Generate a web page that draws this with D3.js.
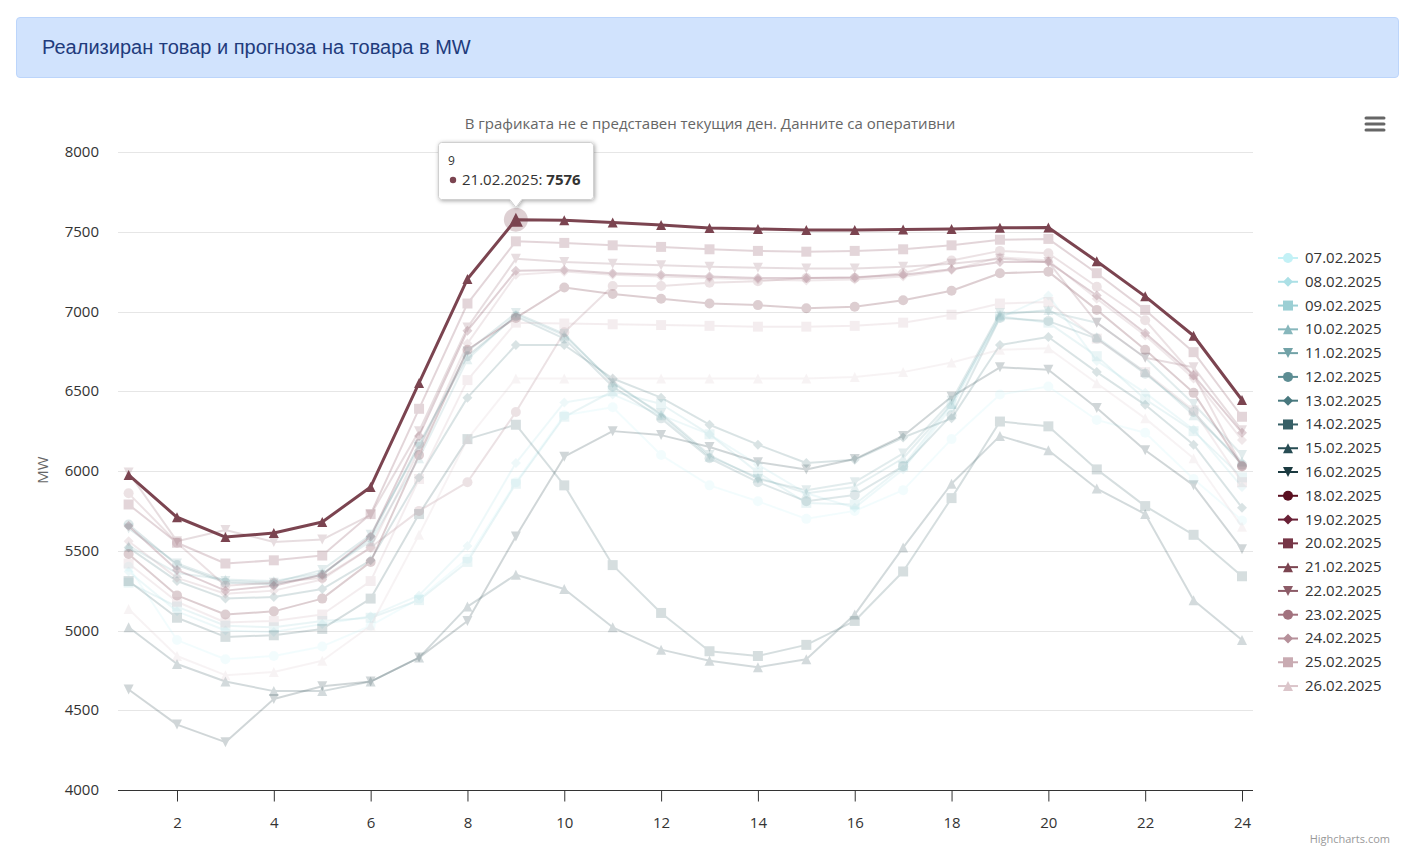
<!DOCTYPE html>
<html>
<head>
<meta charset="utf-8">
<script src="https://cdn.jsdelivr.net/npm/d3@7"></script>
<style>
  body { margin: 0; background: #fff; font-family: "Open Sans", "Noto Sans", sans-serif; }
  .hdr { position: absolute; left: 16px; top: 17px; width: 1383px; height: 61px;
         background: #d1e3fd; border: 1px solid #bcd5fb; border-radius: 4px; box-sizing: border-box; }
  .hdr span { position: absolute; left: 25px; top: 18px; font-family: "Liberation Sans", Arial, sans-serif;
              font-size: 20px; color: #1f3b7c; }
  svg { position: absolute; left: 0; top: 0; }
</style>
</head>
<body>
<div class="hdr"><span>Реализиран товар и прогноза на товара в MW</span></div>
<script>
function ready(fn) {
  if (document.readyState != 'loading') { fn(); }
  else { document.addEventListener('DOMContentLoaded', fn); }
}
ready(init);

var hours = d3.range(1, 25);
var yTicks = [4000, 4500, 5000, 5500, 6000, 6500, 7000, 7500, 8000];
var xTicks = [2, 4, 6, 8, 10, 12, 14, 16, 18, 20, 22, 24];

var dates = ["07.02.2025","08.02.2025","09.02.2025","10.02.2025","11.02.2025","12.02.2025","13.02.2025",
             "14.02.2025","15.02.2025","16.02.2025","18.02.2025","19.02.2025","20.02.2025","21.02.2025",
             "22.02.2025","23.02.2025","24.02.2025","25.02.2025","26.02.2025"];
var colors = ["#c3f1f6","#ace0e6","#9bcfd4","#87b7bc","#72a2a7","#5d8d93","#48787e","#365f66","#274c53","#1b3a40",
              "#5a0f20","#692036","#763546","#7b4450","#8c5b67","#a2727e","#b6909a","#c9abb2","#dbc5ca"];
var symbols = ["circle","diamond","square","triangle","triangle-down"];

var d0702 = [5400,4940,4820,4840,4900,5030,5200,5450,5930,6350,6400,6100,5910,5810,5700,5750,5880,6200,6480,6530,6320,6240,5950,5690];
var d0802 = [5370,5120,5000,4990,5040,5090,5220,5530,6050,6430,6480,6350,6230,6040,5860,5770,6010,6400,6960,7100,6690,6490,6260,5900];
var d0902 = [5300,5150,5030,5020,5060,5080,5190,5430,5920,6340,6500,6420,6230,5990,5800,5790,6030,6420,6970,6930,6720,6450,6250,5960];
var d1002 = [5530,5360,5320,5310,5360,5560,6080,6700,6980,6850,6560,6350,6090,5960,5860,5900,6080,6420,6980,7010,6840,6620,6350,6060];
var d1102 = [5640,5420,5310,5300,5380,5600,6150,6750,6990,6860,6550,6360,6100,5950,5880,5930,6110,6440,6990,7000,6930,6710,6420,6100];
var d1202 = [5665,5410,5300,5290,5350,5580,6170,6720,6970,6830,6530,6330,6080,5930,5810,5850,6030,6350,6960,6940,6830,6610,6370,6040];
var d1302 = [5520,5310,5200,5210,5260,5440,5960,6460,6790,6790,6580,6460,6290,6165,6050,6070,6210,6330,6790,6840,6620,6415,6165,5770];
var d1402 = [5310,5080,4960,4970,5010,5200,5730,6200,6290,5910,5410,5110,4870,4840,4910,5060,5370,5830,6310,6280,6010,5780,5600,5340];
var d1502 = [5020,4790,4680,4620,4620,4680,4830,5150,5350,5260,5020,4880,4810,4770,4820,5100,5520,5920,6220,6130,5890,5730,5190,4940];
var d1602 = [4630,4410,4300,4570,4650,4680,4830,5060,5590,6090,6250,6225,6150,6055,6010,6075,6220,6465,6650,6635,6395,6130,5910,5510];
var d1802 = [5480,5220,5100,5120,5200,5430,6100,6760,6960,7150,7110,7080,7050,7040,7020,7030,7070,7130,7240,7250,7010,6760,6490,6030];
var d1902 = [5655,5380,5250,5280,5350,5590,6220,6880,7255,7260,7240,7230,7220,7210,7210,7215,7230,7265,7310,7310,7100,6865,6600,6240];
var d2002 = [5790,5550,5420,5440,5470,5730,6390,7050,7440,7430,7415,7405,7390,7380,7375,7380,7390,7415,7450,7455,7240,7010,6745,6340];
var d2102 = [5975,5710,5586,5611,5680,5900,6552,7204,7576,7572,7558,7543,7524,7517,7511,7511,7514,7517,7525,7527,7315,7095,6848,6445];
var d2202 = [5990,5560,5630,5555,5570,5725,6250,6900,7330,7310,7300,7290,7280,7275,7270,7270,7280,7300,7330,7310,6930,6710,6650,6255];
var d2302 = [5860,5550,5280,5300,5330,5520,5750,5930,6370,6870,7160,7160,7180,7190,7210,7210,7240,7320,7380,7365,7155,6945,6600,6030];
var d2402 = [5560,5330,5230,5250,5320,5520,6130,6800,7230,7250,7230,7220,7210,7200,7195,7200,7220,7260,7340,7320,7080,6850,6580,6195];
var d2502 = [5420,5180,5050,5060,5100,5310,5950,6570,6930,6925,6920,6915,6910,6905,6905,6910,6930,6980,7050,7060,6830,6620,6380,5930];
var d2602 = [5135,4840,4720,4740,4810,5030,5600,6200,6580,6580,6580,6580,6580,6580,6580,6590,6620,6680,6760,6770,6550,6330,6080,5650];

var values = [d0702,d0802,d0902,d1002,d1102,d1202,d1302,d1402,d1502,d1602,
              d1802,d1902,d2002,d2102,d2202,d2302,d2402,d2502,d2602];
var hovered = 13;   // 21.02.2025
var hoverHour = 9;

function symbolPath(type, r) {
  if (type == "circle") return "M" + (-r) + ",0a" + r + "," + r + " 0 1,0 " + (2*r) + ",0a" + r + "," + r + " 0 1,0 " + (-2*r) + ",0Z";
  if (type == "square") return "M" + (-r) + "," + (-r) + "h" + 2*r + "v" + 2*r + "h" + (-2*r) + "Z";
  if (type == "diamond") return "M0," + (-r) + "L" + r + ",0L0," + r + "L" + (-r) + ",0Z";
  if (type == "triangle") return "M0," + (-r) + "L" + r + "," + r + "L" + (-r) + "," + r + "Z";
  return "M" + (-r) + "," + (-r) + "L" + r + "," + (-r) + "L0," + r + "Z";
}

function init() {
  var W = 1401, H = 856;
  var svg = d3.select("body").append("svg").attr("width", W).attr("height", H);

  var x = d3.scaleLinear().domain([1, 24]).range([128.6, 1242]);
  var y = d3.scaleLinear().domain([4000, 8000]).range([790, 152]);

  var series = dates.map(function(d, i) {
    return { name: d, color: colors[i], symbol: symbols[i % 5], data: values[i] };
  });

  svg.append("text").attr("x", 710).attr("y", 129).attr("text-anchor", "middle")
     .style("font-size", "15px").attr("fill", "#666")
     .text("В графиката не е представен текущия ден. Данните са оперативни");

  // grid
  svg.append("g").selectAll("line").data(yTicks.slice(1)).enter().append("line")
     .attr("x1", 118).attr("x2", 1253)
     .attr("y1", d => Math.round(y(d)) + 0.5).attr("y2", d => Math.round(y(d)) + 0.5)
     .attr("stroke", "#e6e6e6");

  svg.append("g").selectAll("text").data(yTicks).enter().append("text")
     .attr("x", 99).attr("y", d => y(d) + 5).attr("text-anchor", "end")
     .style("font-size", "15px").attr("fill", "#333").text(d => d);

  svg.append("text").attr("transform", "translate(48,470) rotate(-90)")
     .attr("text-anchor", "middle").style("font-size", "15px").attr("fill", "#666").text("MW");

  // x axis
  var xAxis = d3.axisBottom(x).tickValues(xTicks).tickSize(11).tickPadding(16);
  var gx = svg.append("g").attr("transform", "translate(0,790.5)").call(xAxis);
  gx.select(".domain").attr("d", "M118,0H1253").attr("stroke", "#333");
  gx.selectAll(".tick line").attr("stroke", "#333");
  gx.selectAll(".tick text").style("font-size", "15px").style("font-family", "'Open Sans'").attr("fill", "#333");

  var line = d3.line().x((d, i) => x(hours[i])).y(d => y(d));

  var order = series.filter((s, i) => i != hovered).concat([series[hovered]]);
  var sg = svg.append("g").selectAll("g").data(order).enter().append("g")
     .attr("opacity", d => d.name == dates[hovered] ? 1 : 0.2);

  sg.append("path").attr("d", d => line(d.data)).attr("fill", "none")
    .attr("stroke", d => d.color).attr("stroke-width", d => d.name == dates[hovered] ? 3 : 2)
    .attr("stroke-linejoin", "round").attr("stroke-linecap", "round");

  sg.each(function(s) {
    d3.select(this).selectAll("path.m").data(s.data).enter().append("path")
      .attr("class", "m")
      .attr("transform", (d, i) => "translate(" + x(hours[i]) + "," + y(d) + ")")
      .attr("d", symbolPath(s.symbol, 5))
      .attr("fill", s.color);
  });

  // hovered point
  var hs = series[hovered];
  var hx = x(hoverHour), hy = y(hs.data[hoverHour - 1]);
  svg.append("circle").attr("cx", hx).attr("cy", hy).attr("r", 12)
     .attr("fill", hs.color).attr("opacity", 0.25);
  svg.append("path").attr("transform", "translate(" + hx + "," + hy + ")")
     .attr("d", symbolPath(hs.symbol, 7)).attr("fill", hs.color);

  // tooltip
  var defs = svg.append("defs");
  var f = defs.append("filter").attr("id", "sh").attr("x", "-20%").attr("y", "-20%").attr("width", "140%").attr("height", "160%");
  f.append("feDropShadow").attr("dx", 1).attr("dy", 1).attr("stdDeviation", 2).attr("flood-opacity", 0.35);
  var bx = 438.5, by = 142.5, bw = 155, bh = 57, px = hx;
  var tp = "M" + (bx + 3) + "," + by + "H" + (bx + bw - 3) + "Q" + (bx + bw) + "," + by + " " + (bx + bw) + "," + (by + 3)
         + "V" + (by + bh - 3) + "Q" + (bx + bw) + "," + (by + bh) + " " + (bx + bw - 3) + "," + (by + bh)
         + "H" + (px + 6) + "L" + px + "," + (by + bh + 8) + "L" + (px - 6) + "," + (by + bh)
         + "H" + (bx + 3) + "Q" + bx + "," + (by + bh) + " " + bx + "," + (by + bh - 3)
         + "V" + (by + 3) + "Q" + bx + "," + by + " " + (bx + 3) + "," + by + "Z";
  svg.append("path").attr("d", tp).attr("fill", "#fff").attr("stroke", "#d0d0d0")
     .attr("filter", "url(#sh)");
  svg.append("text").attr("x", 448).attr("y", 165).style("font-size", "12px").attr("fill", "#333").text(hoverHour);
  svg.append("circle").attr("cx", 453).attr("cy", 180).attr("r", 3.2).attr("fill", hs.color);
  var tt = svg.append("text").attr("x", 462).attr("y", 185).style("font-size", "15px").attr("fill", "#333");
  tt.append("tspan").text(hs.name + ": ");
  tt.append("tspan").style("font-weight", "bold").text(hs.data[hoverHour - 1]);

  // legend
  var lg = svg.append("g").selectAll("g").data(series).enter().append("g")
     .attr("transform", (d, i) => "translate(1278," + (258 + i * 23.78) + ")");
  lg.append("line").attr("x1", 0).attr("x2", 20).attr("stroke", d => d.color).attr("stroke-width", 2);
  lg.append("path").attr("transform", "translate(10,0)").attr("d", d => symbolPath(d.symbol, 5)).attr("fill", d => d.color);
  lg.append("text").attr("x", 27).attr("y", 5).style("font-size", "15px").attr("fill", "#333").text(d => d.name);

  // menu button
  svg.append("g").selectAll("line").data([0, 1, 2]).enter().append("line")
     .attr("x1", 1366).attr("x2", 1384).attr("y1", d => 118 + d * 6).attr("y2", d => 118 + d * 6)
     .attr("stroke", "#666").attr("stroke-width", 3).attr("stroke-linecap", "round");

  svg.append("text").attr("x", 1390).attr("y", 843).attr("text-anchor", "end")
     .style("font-size", "11px").attr("fill", "#999").text("Highcharts.com");
}
</script>
</body>
</html>
